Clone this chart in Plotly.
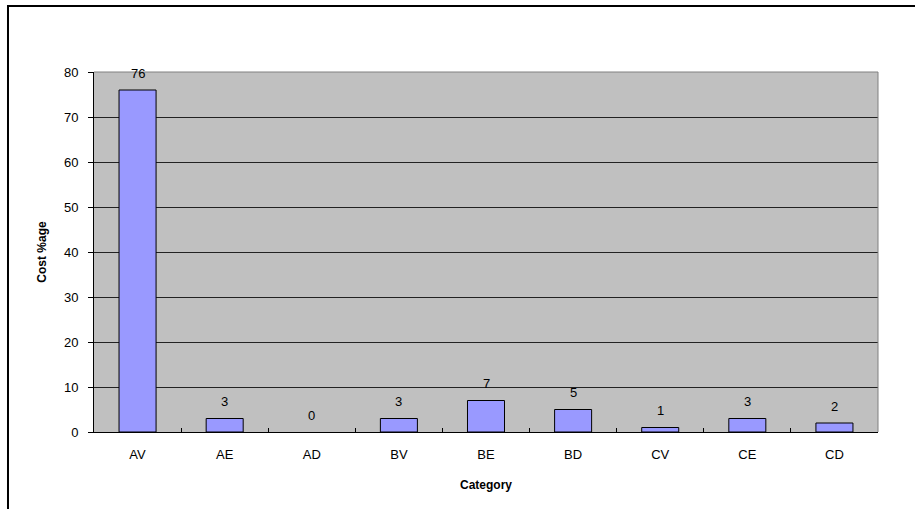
import plotly.graph_objects as go

categories = ["AV", "AE", "AD", "BV", "BE", "BD", "CV", "CE", "CD"]
values = [76, 3, 0, 3, 7, 5, 1, 3, 2]
labels = ["76", "3", "0", "3", "7", "5", "1", "3", "2"]
y_ticks = [0, 10, 20, 30, 40, 50, 60, 70, 80]

outline_widths = [0 if v == 0 else 1 for v in values]

fig = go.Figure()
fig.add_trace(go.Bar(
    x=categories, y=values,
    marker=dict(color="#9999FF", line=dict(color="black", width=outline_widths)),
    hoverinfo="x+y",
))
for c, v, t in zip(categories, values, labels):
    fig.add_annotation(x=c, y=v, text=t, showarrow=False, yshift=17,
                       yanchor="middle",
                       font=dict(family="Arial, Liberation Sans", size=13, color="black"))

fig.update_layout(
    width=915, height=509,
    margin=dict(l=94, r=37, t=72, b=77),
    paper_bgcolor="white", plot_bgcolor="#C0C0C0",
    bargap=0.575, showlegend=False,
    font=dict(family="Arial, Liberation Sans", size=13, color="black"),
)
fig.update_xaxes(
    title=dict(text="<b>Category</b>", font=dict(size=12), standoff=20),
    showline=True, linecolor="black", linewidth=1,
    ticks="inside", tickson="boundaries", ticklen=4, tickcolor="black",
    tickfont=dict(size=13), ticklabelstandoff=10, showgrid=False,
)
fig.update_yaxes(
    title=dict(text="<b>Cost %age</b>", font=dict(size=12), standoff=14),
    range=[0, 80], tickvals=y_ticks,
    showline=True, linecolor="black", linewidth=1,
    ticks="outside", ticklen=5, tickcolor="black",
    tickfont=dict(size=13), ticklabelstandoff=7,
    showgrid=True, gridcolor="#222222", gridwidth=1, zeroline=False,
)
# plot area top/right border (grey)
fig.add_shape(type="line", xref="paper", yref="paper", x0=0, x1=1, y0=1, y1=1,
              line=dict(color="#808080", width=1))
fig.add_shape(type="line", xref="paper", yref="paper", x0=1, x1=1, y0=0, y1=1,
              line=dict(color="#808080", width=1))
# outer chart frame
fig.add_shape(type="rect", xref="paper", yref="paper",
              x0=-0.1097, x1=1.3, y0=-0.4, y1=1.183,
              line=dict(color="black", width=2), layer="below")

fig.write_html("out.html", config={"displayModeBar": False},
               post_script="document.body.style.margin='0';document.body.style.overflow='hidden';")
